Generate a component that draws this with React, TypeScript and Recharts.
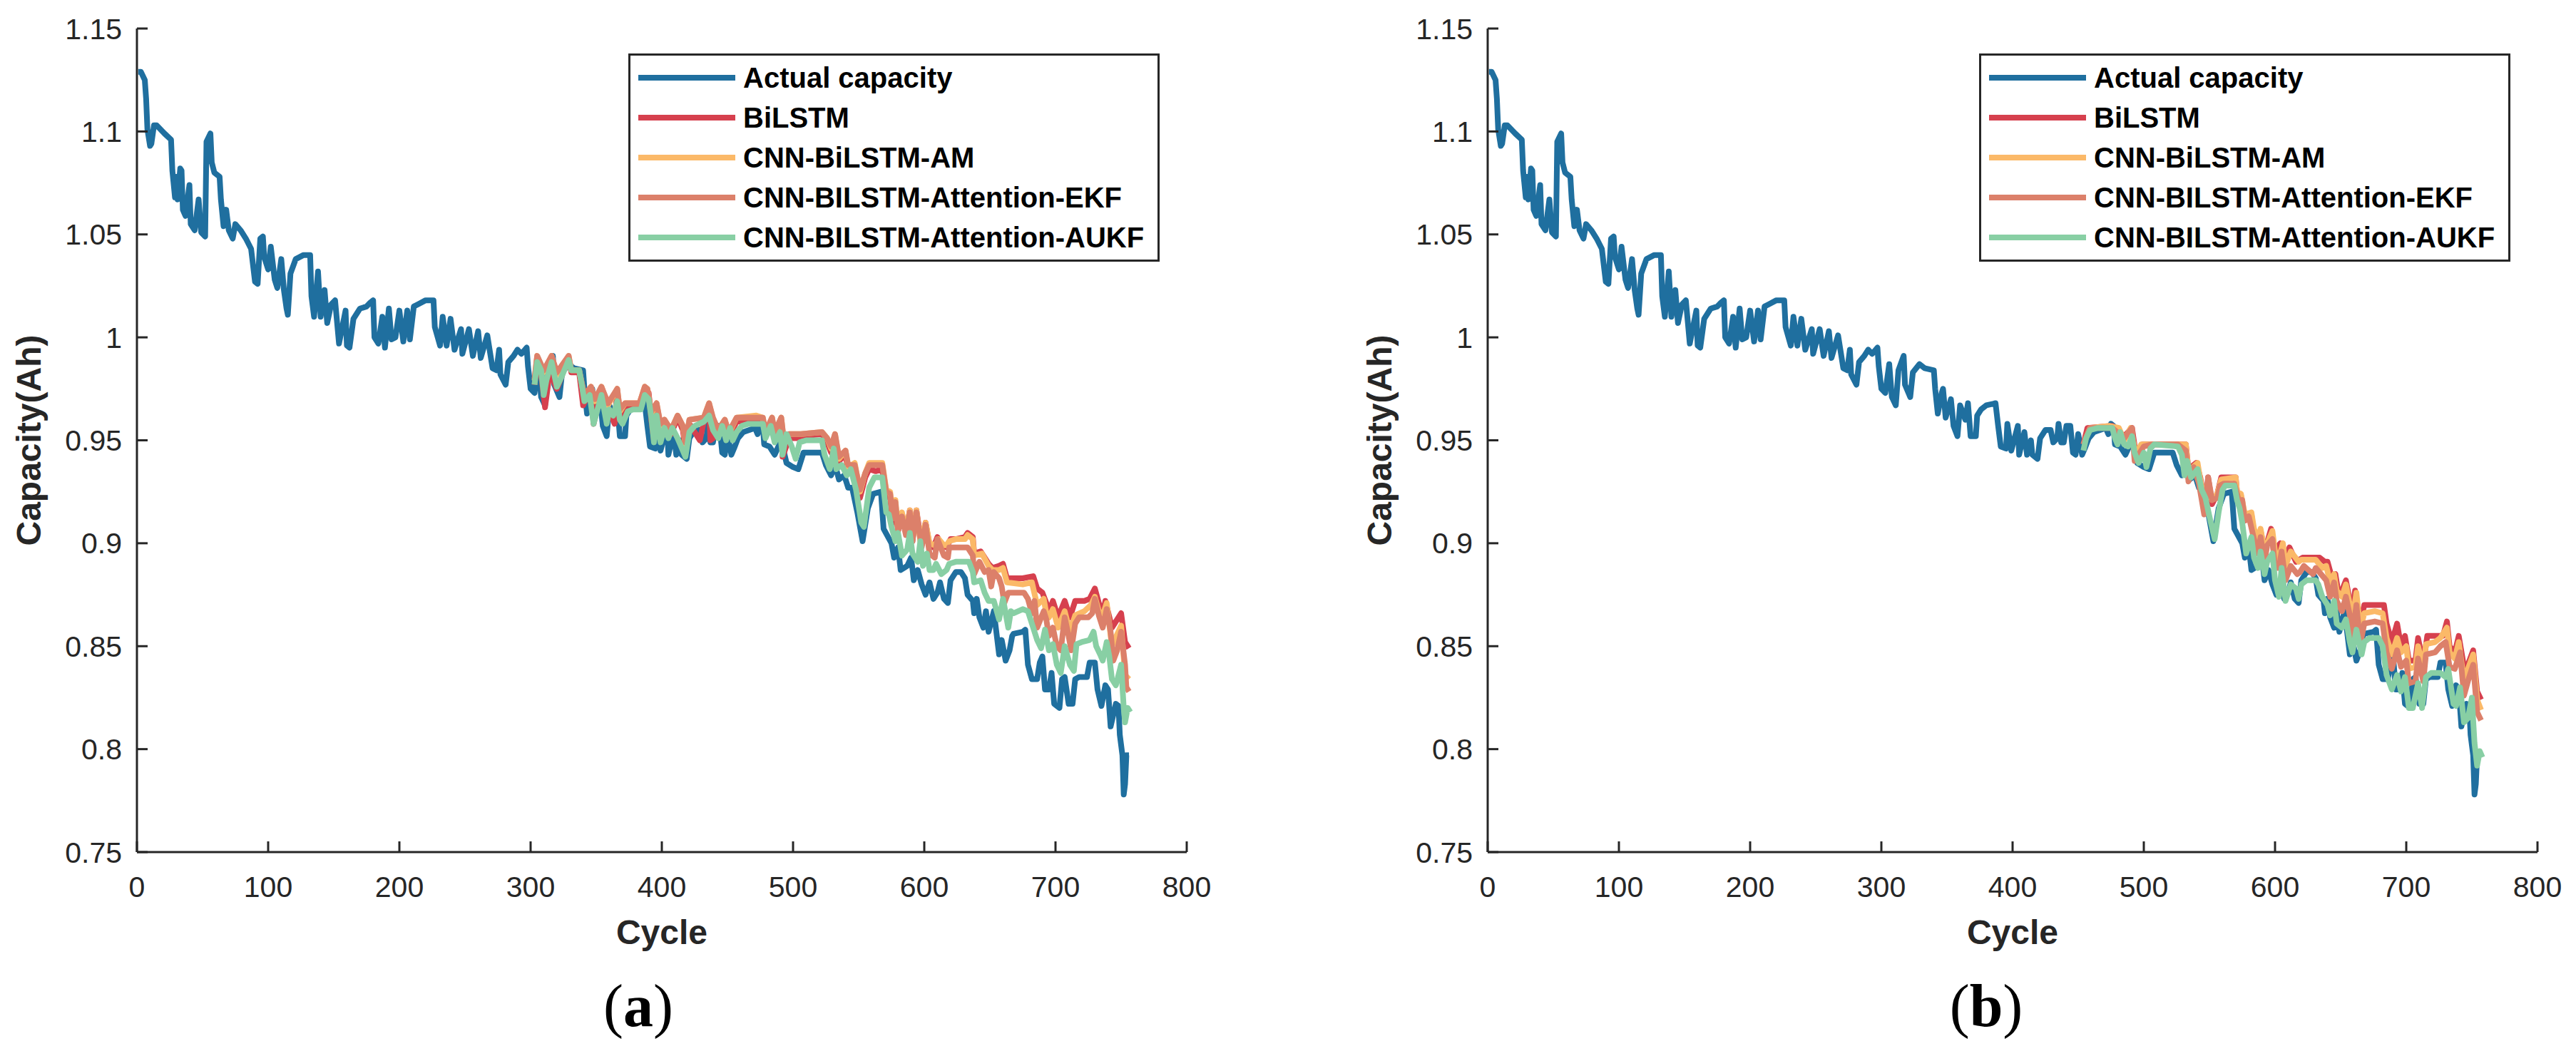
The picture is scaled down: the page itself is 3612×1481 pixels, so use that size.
import { LineChart, Line, XAxis, YAxis, Legend } from 'recharts';

type Pt = [number, number];

const cycleTicks = [0, 100, 200, 300, 400, 500, 600, 700, 800];
const capacityTicks = [0.75, 0.8, 0.85, 0.9, 0.95, 1, 1.05, 1.1, 1.15];
const seriesNames = ['Actual capacity', 'BiLSTM', 'CNN-BiLSTM-AM', 'CNN-BILSTM-Attention-EKF', 'CNN-BILSTM-Attention-AUKF'];
const seriesColors = ['#1f6f9f', '#d6404e', '#fbb968', '#dc806a', '#88cfa4'];

// measured capacity, shared by both panels
const actualCapacity: Pt[] = [
  [1, 1.129], [3, 1.129], [6, 1.125], [7, 1.116], [8, 1.101], [10, 1.093], [11, 1.094], [13, 1.103], [15, 1.103],
  [18, 1.101], [21, 1.099], [26, 1.096], [27, 1.081], [29, 1.068], [30, 1.078], [31, 1.067], [33, 1.082], [34, 1.081],
  [35, 1.062], [37, 1.059], [40, 1.074], [41, 1.055], [44, 1.052], [47, 1.067], [49, 1.051], [52, 1.049], [53, 1.095],
  [56, 1.099], [57, 1.085], [59, 1.08], [63, 1.078], [64, 1.067], [66, 1.054], [68, 1.062], [70, 1.052], [73, 1.048],
  [75, 1.055], [79, 1.052], [83, 1.048], [87, 1.043], [90, 1.027], [92, 1.026], [94, 1.048], [96, 1.049], [97, 1.039],
  [100, 1.033], [102, 1.044], [105, 1.028], [107, 1.024], [110, 1.038], [112, 1.023], [114, 1.014], [115, 1.011],
  [117, 1.031], [121, 1.038], [127, 1.04], [132, 1.04], [133, 1.02], [135, 1.01], [138, 1.032], [140, 1.01],
  [143, 1.023], [145, 1.007], [148, 1.016], [151, 1.018], [154, 0.997], [159, 1.013], [160, 0.996], [162, 0.995],
  [165, 1.009], [170, 1.014], [175, 1.015], [178, 1.017], [180, 1.018], [181, 1.0], [184, 0.997], [187, 1.01],
  [189, 0.995], [192, 1.014], [194, 0.999], [197, 1.0], [200, 1.013], [203, 0.998], [206, 1.013], [208, 0.999],
  [211, 1.015], [214, 1.016], [220, 1.018], [226, 1.018], [227, 1.005], [231, 0.996], [233, 1.01], [236, 0.996],
  [239, 1.009], [242, 0.994], [247, 1.004], [248, 0.992], [253, 1.004], [256, 0.991], [260, 1.003], [262, 0.99],
  [267, 1.001], [271, 0.985], [274, 0.984], [276, 0.994], [277, 0.982], [281, 0.977], [283, 0.988], [287, 0.991],
  [290, 0.994], [293, 0.992], [297, 0.995], [298, 0.986], [300, 0.975], [303, 0.973], [306, 0.987], [308, 0.971],
  [311, 0.967], [313, 0.984], [317, 0.991], [318, 0.977], [322, 0.971], [324, 0.983], [329, 0.987], [333, 0.985],
  [340, 0.984], [341, 0.975], [343, 0.963], [346, 0.973], [347, 0.975], [349, 0.961], [353, 0.97], [355, 0.957],
  [358, 0.952], [360, 0.967], [364, 0.96], [366, 0.968], [368, 0.952], [372, 0.952], [373, 0.962], [376, 0.965],
  [380, 0.967], [387, 0.968], [389, 0.957], [391, 0.947], [395, 0.946], [396, 0.958], [399, 0.945], [404, 0.957],
  [405, 0.943], [409, 0.954], [411, 0.943], [414, 0.95], [415, 0.943], [419, 0.941], [421, 0.951], [425, 0.955],
  [429, 0.955], [431, 0.949], [434, 0.951], [435, 0.958], [437, 0.949], [439, 0.949], [441, 0.957], [444, 0.957],
  [446, 0.944], [448, 0.943], [450, 0.953], [453, 0.943], [455, 0.946], [458, 0.951], [462, 0.954], [471, 0.956],
  [473, 0.953], [475, 0.958], [477, 0.957], [478, 0.948], [482, 0.947], [486, 0.943], [491, 0.95], [495, 0.939],
  [500, 0.937], [504, 0.936], [508, 0.944], [522, 0.944], [525, 0.938], [529, 0.933], [532, 0.938], [535, 0.931],
  [539, 0.933], [542, 0.927], [545, 0.927], [549, 0.915], [553, 0.901], [557, 0.917], [561, 0.924], [567, 0.925],
  [569, 0.907], [575, 0.9], [577, 0.893], [580, 0.898], [582, 0.887], [587, 0.889], [590, 0.893], [592, 0.882],
  [595, 0.887], [598, 0.88], [601, 0.875], [604, 0.881], [607, 0.873], [610, 0.876], [612, 0.881], [615, 0.873],
  [618, 0.871], [620, 0.882], [624, 0.886], [628, 0.886], [631, 0.883], [633, 0.875], [637, 0.872], [638, 0.866],
  [640, 0.873], [642, 0.864], [645, 0.859], [647, 0.867], [649, 0.857], [653, 0.867], [657, 0.846], [659, 0.853],
  [662, 0.843], [665, 0.848], [667, 0.855], [668, 0.856], [675, 0.857], [677, 0.858], [679, 0.841], [682, 0.834],
  [686, 0.834], [688, 0.842], [690, 0.845], [692, 0.829], [695, 0.829], [697, 0.837], [699, 0.822], [703, 0.82],
  [705, 0.834], [707, 0.835], [710, 0.822], [713, 0.822], [715, 0.834], [718, 0.835], [724, 0.835], [726, 0.842],
  [730, 0.842], [732, 0.829], [735, 0.821], [738, 0.831], [740, 0.829], [742, 0.811], [746, 0.822], [748, 0.821],
  [749, 0.807], [751, 0.797], [752, 0.778], [753, 0.783], [754, 0.797], [756, 0.797],
];

// panel (a): predictions from cycle ~303
const bilstmA: Pt[] = [
  [303, 0.977], [305, 0.99], [308, 0.982], [311, 0.966], [316, 0.99], [318, 0.978], [320, 0.975], [329, 0.99],
  [331, 0.983], [337, 0.983], [340, 0.967], [346, 0.975], [348, 0.958], [354, 0.975], [359, 0.966], [364, 0.958],
  [366, 0.974], [368, 0.96], [372, 0.966], [383, 0.967], [387, 0.975], [390, 0.973], [392, 0.96], [394, 0.95],
  [396, 0.966], [399, 0.952], [402, 0.958], [407, 0.953], [412, 0.961], [416, 0.955], [418, 0.946], [421, 0.958],
  [429, 0.95], [432, 0.959], [436, 0.967], [437, 0.95], [443, 0.953], [448, 0.959], [451, 0.952], [457, 0.959],
  [472, 0.96], [477, 0.96], [479, 0.952], [484, 0.96], [486, 0.952], [491, 0.96], [492, 0.942], [497, 0.951],
  [503, 0.951], [506, 0.952], [522, 0.953], [526, 0.949], [529, 0.944], [532, 0.952], [535, 0.94], [540, 0.943],
  [542, 0.935], [547, 0.936], [551, 0.922], [555, 0.932], [558, 0.936], [563, 0.935], [568, 0.936], [571, 0.923],
  [574, 0.922], [576, 0.91], [578, 0.918], [580, 0.906], [583, 0.914], [586, 0.905], [589, 0.916], [591, 0.901],
  [594, 0.916], [598, 0.899], [601, 0.91], [604, 0.899], [607, 0.898], [610, 0.903], [613, 0.899], [617, 0.898],
  [620, 0.902], [624, 0.902], [631, 0.903], [633, 0.905], [637, 0.903], [638, 0.895], [643, 0.896], [649, 0.89],
  [652, 0.888], [657, 0.889], [660, 0.89], [663, 0.883], [665, 0.883], [675, 0.883], [683, 0.884], [686, 0.878],
  [690, 0.876], [693, 0.871], [695, 0.866], [698, 0.872], [702, 0.864], [707, 0.872], [711, 0.864], [715, 0.872],
  [722, 0.872], [726, 0.873], [730, 0.878], [733, 0.871], [736, 0.866], [738, 0.872], [743, 0.859], [745, 0.861],
  [750, 0.866], [753, 0.852], [756, 0.849],
];

const cnnAmA: Pt[] = [
  [303, 0.979], [305, 0.991], [310, 0.983], [316, 0.991], [320, 0.982], [329, 0.991], [331, 0.984], [337, 0.984],
  [341, 0.971], [346, 0.976], [349, 0.969], [354, 0.976], [359, 0.967], [366, 0.975], [368, 0.964], [372, 0.968],
  [383, 0.968], [387, 0.976], [389, 0.975], [392, 0.963], [396, 0.968], [399, 0.957], [402, 0.96], [407, 0.955],
  [412, 0.962], [416, 0.957], [418, 0.948], [421, 0.96], [432, 0.961], [436, 0.968], [439, 0.96], [443, 0.955],
  [448, 0.96], [451, 0.953], [457, 0.961], [472, 0.962], [477, 0.961], [479, 0.953], [484, 0.961], [486, 0.953],
  [491, 0.961], [493, 0.949], [497, 0.953], [503, 0.953], [506, 0.953], [522, 0.954], [526, 0.951], [529, 0.946],
  [532, 0.953], [535, 0.941], [540, 0.945], [542, 0.937], [547, 0.939], [551, 0.925], [555, 0.934], [558, 0.939],
  [568, 0.939], [571, 0.926], [574, 0.925], [576, 0.913], [578, 0.921], [580, 0.907], [583, 0.915], [586, 0.905],
  [589, 0.916], [591, 0.902], [594, 0.916], [597, 0.901], [601, 0.91], [604, 0.9], [608, 0.899], [611, 0.902],
  [615, 0.899], [617, 0.899], [619, 0.901], [624, 0.902], [631, 0.902], [633, 0.904], [637, 0.902], [638, 0.894],
  [644, 0.895], [649, 0.889], [652, 0.887], [657, 0.887], [660, 0.888], [663, 0.881], [675, 0.88], [682, 0.881],
  [686, 0.87], [691, 0.873], [693, 0.866], [695, 0.864], [698, 0.868], [702, 0.859], [707, 0.867], [711, 0.857],
  [715, 0.865], [722, 0.867], [727, 0.87], [730, 0.874], [733, 0.867], [736, 0.865], [739, 0.871], [743, 0.85],
  [745, 0.853], [750, 0.86], [753, 0.836], [756, 0.834],
];

const ekfA: Pt[] = [
  [303, 0.98], [305, 0.991], [310, 0.984], [316, 0.991], [320, 0.983], [329, 0.991], [331, 0.984], [337, 0.984],
  [341, 0.972], [346, 0.976], [349, 0.97], [354, 0.976], [359, 0.968], [366, 0.975], [368, 0.965], [372, 0.968],
  [383, 0.968], [387, 0.976], [389, 0.975], [392, 0.964], [396, 0.968], [399, 0.958], [402, 0.96], [407, 0.955],
  [412, 0.962], [416, 0.957], [418, 0.949], [421, 0.96], [432, 0.961], [436, 0.968], [439, 0.961], [443, 0.955],
  [448, 0.96], [451, 0.954], [457, 0.961], [472, 0.961], [477, 0.961], [479, 0.954], [484, 0.961], [486, 0.954],
  [491, 0.961], [493, 0.95], [497, 0.953], [503, 0.953], [506, 0.953], [522, 0.954], [526, 0.951], [529, 0.947],
  [532, 0.953], [535, 0.942], [540, 0.945], [542, 0.938], [547, 0.938], [551, 0.926], [555, 0.934], [558, 0.938],
  [568, 0.938], [571, 0.925], [574, 0.924], [576, 0.912], [578, 0.92], [580, 0.906], [583, 0.913], [586, 0.904],
  [589, 0.915], [591, 0.901], [594, 0.915], [598, 0.898], [601, 0.909], [604, 0.895], [608, 0.893], [610, 0.902],
  [615, 0.894], [618, 0.893], [619, 0.898], [624, 0.898], [633, 0.898], [637, 0.894], [638, 0.885], [642, 0.891],
  [646, 0.886], [649, 0.887], [651, 0.879], [653, 0.886], [657, 0.883], [659, 0.879], [661, 0.871], [664, 0.876],
  [667, 0.876], [676, 0.876], [679, 0.873], [682, 0.866], [684, 0.872], [686, 0.859], [691, 0.867], [693, 0.863],
  [695, 0.855], [698, 0.859], [701, 0.85], [704, 0.848], [707, 0.864], [710, 0.855], [712, 0.848], [715, 0.861],
  [718, 0.864], [725, 0.864], [728, 0.866], [730, 0.873], [733, 0.865], [736, 0.859], [739, 0.868], [742, 0.857],
  [744, 0.843], [747, 0.848], [750, 0.857], [753, 0.841], [754, 0.83], [756, 0.828],
];

const aukfA: Pt[] = [
  [303, 0.977], [305, 0.988], [308, 0.984], [310, 0.972], [312, 0.979], [316, 0.988], [318, 0.982], [320, 0.976],
  [323, 0.98], [325, 0.983], [329, 0.989], [331, 0.984], [337, 0.984], [339, 0.977], [341, 0.969], [345, 0.972],
  [348, 0.958], [354, 0.972], [358, 0.958], [360, 0.965], [363, 0.962], [366, 0.969], [368, 0.96], [370, 0.958],
  [374, 0.964], [378, 0.965], [384, 0.965], [387, 0.972], [390, 0.97], [392, 0.961], [394, 0.949], [396, 0.962],
  [399, 0.949], [402, 0.956], [405, 0.951], [408, 0.956], [412, 0.951], [414, 0.948], [418, 0.942], [421, 0.954],
  [425, 0.957], [432, 0.959], [436, 0.962], [439, 0.955], [443, 0.951], [446, 0.957], [449, 0.95], [452, 0.956],
  [454, 0.95], [457, 0.954], [461, 0.957], [466, 0.958], [477, 0.958], [479, 0.951], [483, 0.957], [486, 0.949],
  [490, 0.954], [492, 0.943], [495, 0.953], [499, 0.947], [502, 0.941], [505, 0.949], [510, 0.95], [522, 0.95],
  [524, 0.943], [528, 0.936], [531, 0.946], [533, 0.936], [537, 0.938], [541, 0.933], [544, 0.936], [548, 0.926],
  [552, 0.91], [554, 0.908], [558, 0.927], [562, 0.932], [568, 0.932], [571, 0.915], [573, 0.914], [575, 0.908],
  [578, 0.901], [580, 0.905], [583, 0.894], [587, 0.897], [589, 0.905], [591, 0.895], [595, 0.891], [597, 0.901],
  [599, 0.889], [602, 0.895], [604, 0.887], [607, 0.887], [609, 0.89], [613, 0.885], [617, 0.887], [619, 0.89],
  [624, 0.891], [631, 0.891], [634, 0.891], [637, 0.886], [638, 0.881], [643, 0.882], [646, 0.876], [649, 0.872],
  [653, 0.872], [657, 0.863], [660, 0.873], [664, 0.859], [666, 0.867], [668, 0.866], [675, 0.868], [679, 0.867],
  [682, 0.861], [686, 0.853], [689, 0.849], [692, 0.858], [695, 0.848], [698, 0.851], [701, 0.841], [704, 0.837],
  [707, 0.85], [711, 0.841], [714, 0.838], [716, 0.851], [720, 0.852], [726, 0.853], [729, 0.857], [731, 0.85],
  [734, 0.846], [736, 0.843], [739, 0.852], [741, 0.845], [743, 0.834], [746, 0.831], [748, 0.836], [750, 0.841],
  [752, 0.82], [753, 0.813], [755, 0.82], [757, 0.818],
];

// panel (b): predictions from cycle ~454
const bilstmB: Pt[] = [
  [454, 0.948], [457, 0.956], [476, 0.957], [485, 0.952], [491, 0.956], [494, 0.943], [499, 0.948], [506, 0.948],
  [532, 0.948], [534, 0.936], [540, 0.939], [543, 0.932], [547, 0.917], [549, 0.932], [552, 0.919], [556, 0.924],
  [559, 0.932], [570, 0.932], [571, 0.925], [574, 0.923], [577, 0.911], [582, 0.914], [584, 0.904], [587, 0.9],
  [589, 0.906], [592, 0.896], [597, 0.907], [599, 0.896], [604, 0.9], [607, 0.891], [611, 0.898], [616, 0.891],
  [621, 0.893], [634, 0.893], [638, 0.891], [640, 0.891], [643, 0.884], [646, 0.885], [648, 0.877], [651, 0.877],
  [654, 0.882], [657, 0.872], [659, 0.867], [661, 0.877], [665, 0.861], [668, 0.87], [683, 0.87], [685, 0.861],
  [689, 0.852], [693, 0.861], [696, 0.85], [699, 0.855], [702, 0.843], [707, 0.843], [709, 0.854], [713, 0.841],
  [716, 0.855], [728, 0.855], [731, 0.862], [733, 0.85], [737, 0.847], [740, 0.855], [744, 0.84], [747, 0.841],
  [751, 0.848], [754, 0.828], [757, 0.824],
];

const cnnAmB: Pt[] = [
  [454, 0.948], [459, 0.956], [474, 0.957], [481, 0.956], [485, 0.95], [490, 0.956], [494, 0.943], [498, 0.948],
  [504, 0.948], [532, 0.948], [534, 0.935], [541, 0.939], [543, 0.931], [547, 0.918], [549, 0.93], [552, 0.921],
  [556, 0.924], [559, 0.931], [570, 0.932], [571, 0.925], [574, 0.924], [577, 0.914], [582, 0.915], [584, 0.907],
  [587, 0.902], [589, 0.907], [592, 0.896], [596, 0.903], [598, 0.906], [600, 0.896], [603, 0.893], [606, 0.9],
  [608, 0.889], [612, 0.896], [618, 0.891], [620, 0.892], [631, 0.892], [636, 0.888], [639, 0.889], [642, 0.881],
  [645, 0.885], [647, 0.877], [651, 0.874], [654, 0.88], [657, 0.87], [659, 0.863], [662, 0.876], [665, 0.858],
  [668, 0.866], [676, 0.867], [682, 0.866], [685, 0.854], [689, 0.846], [693, 0.854], [696, 0.847], [700, 0.85],
  [702, 0.839], [707, 0.84], [709, 0.85], [713, 0.839], [715, 0.851], [722, 0.852], [726, 0.854], [731, 0.859],
  [733, 0.847], [737, 0.844], [740, 0.852], [744, 0.833], [747, 0.839], [751, 0.846], [754, 0.824], [757, 0.819],
];

const ekfB: Pt[] = [
  [454, 0.948], [459, 0.956], [476, 0.956], [485, 0.951], [491, 0.956], [493, 0.94], [500, 0.947], [506, 0.948],
  [526, 0.948], [532, 0.945], [534, 0.93], [538, 0.937], [542, 0.929], [546, 0.914], [549, 0.932], [552, 0.921],
  [556, 0.922], [558, 0.928], [561, 0.929], [569, 0.929], [571, 0.924], [573, 0.919], [575, 0.921], [577, 0.911],
  [580, 0.913], [584, 0.902], [587, 0.895], [589, 0.903], [592, 0.891], [594, 0.899], [598, 0.902], [600, 0.888],
  [603, 0.888], [605, 0.896], [608, 0.882], [612, 0.889], [617, 0.885], [619, 0.886], [622, 0.889], [629, 0.885],
  [631, 0.888], [635, 0.885], [639, 0.882], [642, 0.874], [645, 0.881], [647, 0.872], [651, 0.867], [654, 0.874],
  [657, 0.865], [659, 0.855], [662, 0.87], [665, 0.851], [668, 0.861], [676, 0.862], [682, 0.861], [685, 0.847],
  [689, 0.839], [693, 0.848], [696, 0.84], [700, 0.843], [702, 0.832], [707, 0.833], [709, 0.844], [713, 0.833],
  [715, 0.846], [722, 0.847], [726, 0.85], [730, 0.852], [733, 0.84], [737, 0.839], [741, 0.847], [744, 0.826],
  [747, 0.833], [751, 0.841], [754, 0.818], [757, 0.814],
];

const aukfB: Pt[] = [
  [454, 0.945], [456, 0.951], [459, 0.955], [465, 0.956], [476, 0.956], [478, 0.951], [480, 0.948], [482, 0.954],
  [485, 0.948], [488, 0.947], [491, 0.952], [493, 0.944], [496, 0.939], [500, 0.944], [502, 0.937], [505, 0.946],
  [508, 0.948], [526, 0.947], [529, 0.943], [531, 0.933], [533, 0.94], [536, 0.932], [541, 0.936], [544, 0.926],
  [547, 0.922], [550, 0.913], [554, 0.902], [557, 0.915], [560, 0.926], [562, 0.928], [569, 0.928], [571, 0.921],
  [573, 0.917], [575, 0.91], [578, 0.895], [582, 0.903], [584, 0.893], [587, 0.888], [589, 0.896], [592, 0.885],
  [594, 0.891], [598, 0.895], [600, 0.882], [603, 0.874], [605, 0.888], [608, 0.872], [612, 0.88], [616, 0.878],
  [618, 0.873], [620, 0.88], [624, 0.882], [631, 0.882], [633, 0.88], [636, 0.874], [640, 0.87], [642, 0.865],
  [645, 0.872], [647, 0.861], [651, 0.859], [654, 0.863], [657, 0.852], [659, 0.847], [662, 0.858], [666, 0.846],
  [668, 0.852], [672, 0.854], [679, 0.854], [682, 0.85], [685, 0.836], [689, 0.829], [693, 0.836], [696, 0.828],
  [699, 0.835], [702, 0.82], [705, 0.82], [709, 0.832], [712, 0.82], [715, 0.835], [719, 0.837], [726, 0.837],
  [730, 0.835], [732, 0.839], [736, 0.822], [738, 0.821], [741, 0.83], [744, 0.813], [747, 0.815], [750, 0.825],
  [752, 0.803], [754, 0.792], [756, 0.799], [758, 0.796],
];

const AXIS = '#262626';
const SANS = '"Liberation Sans", Arial, Helvetica, sans-serif';

function LegendBox({ payload }: any) {
  const items = [...(payload || [])].sort(
    (a: any, b: any) => seriesNames.indexOf(a.value) - seriesNames.indexOf(b.value)
  );
  return (
    <div
      style={{
        position: 'relative',
        width: 745,
        height: 292,
        boxSizing: 'border-box',
        border: `3px solid ${AXIS}`,
        background: '#fff',
      }}
    >
      {items.map((p: any, i: number) => (
        <div
          key={p.value}
          style={{ position: 'absolute', left: 11, top: 3 + i * 56, height: 56, display: 'flex', alignItems: 'center' }}
        >
          <span style={{ display: 'inline-block', width: 136, height: 8, background: p.color }} />
          <span style={{ marginLeft: 11, fontFamily: SANS, fontWeight: 'bold', fontSize: 40, color: '#000', whiteSpace: 'nowrap' }}>
            {p.value}
          </span>
        </div>
      ))}
    </div>
  );
}

function YTitle({ viewBox }: any) {
  const cx = viewBox.x + viewBox.width - 152;
  const cy = viewBox.y + viewBox.height / 2;
  return (
    <text
      x={cx}
      y={cy}
      transform={`rotate(-90 ${cx} ${cy})`}
      textAnchor="middle"
      dominantBaseline="central"
      fill={AXIS}
      fontFamily={SANS}
      fontWeight="bold"
      fontSize={48}
    >
      Capacity(Ah)
    </text>
  );
}

function XTitle({ viewBox }: any) {
  return (
    <text
      x={viewBox.x + viewBox.width / 2}
      y={viewBox.y + 129}
      textAnchor="middle"
      fill={AXIS}
      fontFamily={SANS}
      fontWeight="bold"
      fontSize={48}
    >
      Cycle
    </text>
  );
}

function Panel({ left, series, tag }: { left: number; series: Pt[][]; tag: string }) {
  const rows = series.map((s) => s.map(([c, v]) => ({ c, v })));
  const tickStyle = { fill: AXIS, fontSize: 41, fontFamily: SANS };
  return (
    <div style={{ position: 'absolute', left, top: 0 }}>
      <LineChart width={1760} height={1340} margin={{ top: 40, right: 96, bottom: 85, left: 112 }}>
        <XAxis
          dataKey="c"
          type="number"
          domain={[0, 800]}
          ticks={cycleTicks}
          interval={0}
          height={60}
          tickSize={-15}
          tickMargin={49}
          tick={tickStyle}
          tickLine={{ stroke: AXIS, strokeWidth: 3 }}
          axisLine={{ stroke: AXIS, strokeWidth: 3 }}
          label={<XTitle />}
        />
        <YAxis
          type="number"
          domain={[0.75, 1.15]}
          ticks={capacityTicks}
          interval={0}
          width={80}
          tickSize={-15}
          tickMargin={36}
          tick={tickStyle}
          tickLine={{ stroke: AXIS, strokeWidth: 3 }}
          axisLine={{ stroke: AXIS, strokeWidth: 3 }}
          label={<YTitle />}
        />
        <Legend
          layout="vertical"
          align="center"
          verticalAlign="middle"
          content={(props: any) => <LegendBox payload={props.payload} />}
          wrapperStyle={{ left: 881, top: 75, width: 745, height: 292 }}
        />
        {rows.map((d, i) => (
          <Line
            key={seriesNames[i]}
            data={d}
            dataKey="v"
            name={seriesNames[i]}
            type="linear"
            stroke={seriesColors[i]}
            strokeWidth={8}
            strokeLinejoin="round"
            dot={false}
            activeDot={false}
            isAnimationActive={false}
          />
        ))}
      </LineChart>
      <div
        style={{
          position: 'absolute',
          left: (tag === 'a' ? 895 : 2785 - 1894) - 100,
          top: 1369,
          width: 200,
          textAlign: 'center',
          fontFamily: '"Liberation Serif", "Times New Roman", serif',
          fontSize: 84,
          lineHeight: '84px',
          color: '#000',
        }}
      >
        (<b>{tag}</b>)
      </div>
    </div>
  );
}

export default function App() {
  return (
    <div style={{ position: 'absolute', left: 0, top: 0, width: 3612, height: 1481, background: '#fff', overflow: 'hidden' }}>
      <Panel left={0} tag="a" series={[actualCapacity, bilstmA, cnnAmA, ekfA, aukfA]} />
      <Panel left={1894} tag="b" series={[actualCapacity, bilstmB, cnnAmB, ekfB, aukfB]} />
    </div>
  );
}
